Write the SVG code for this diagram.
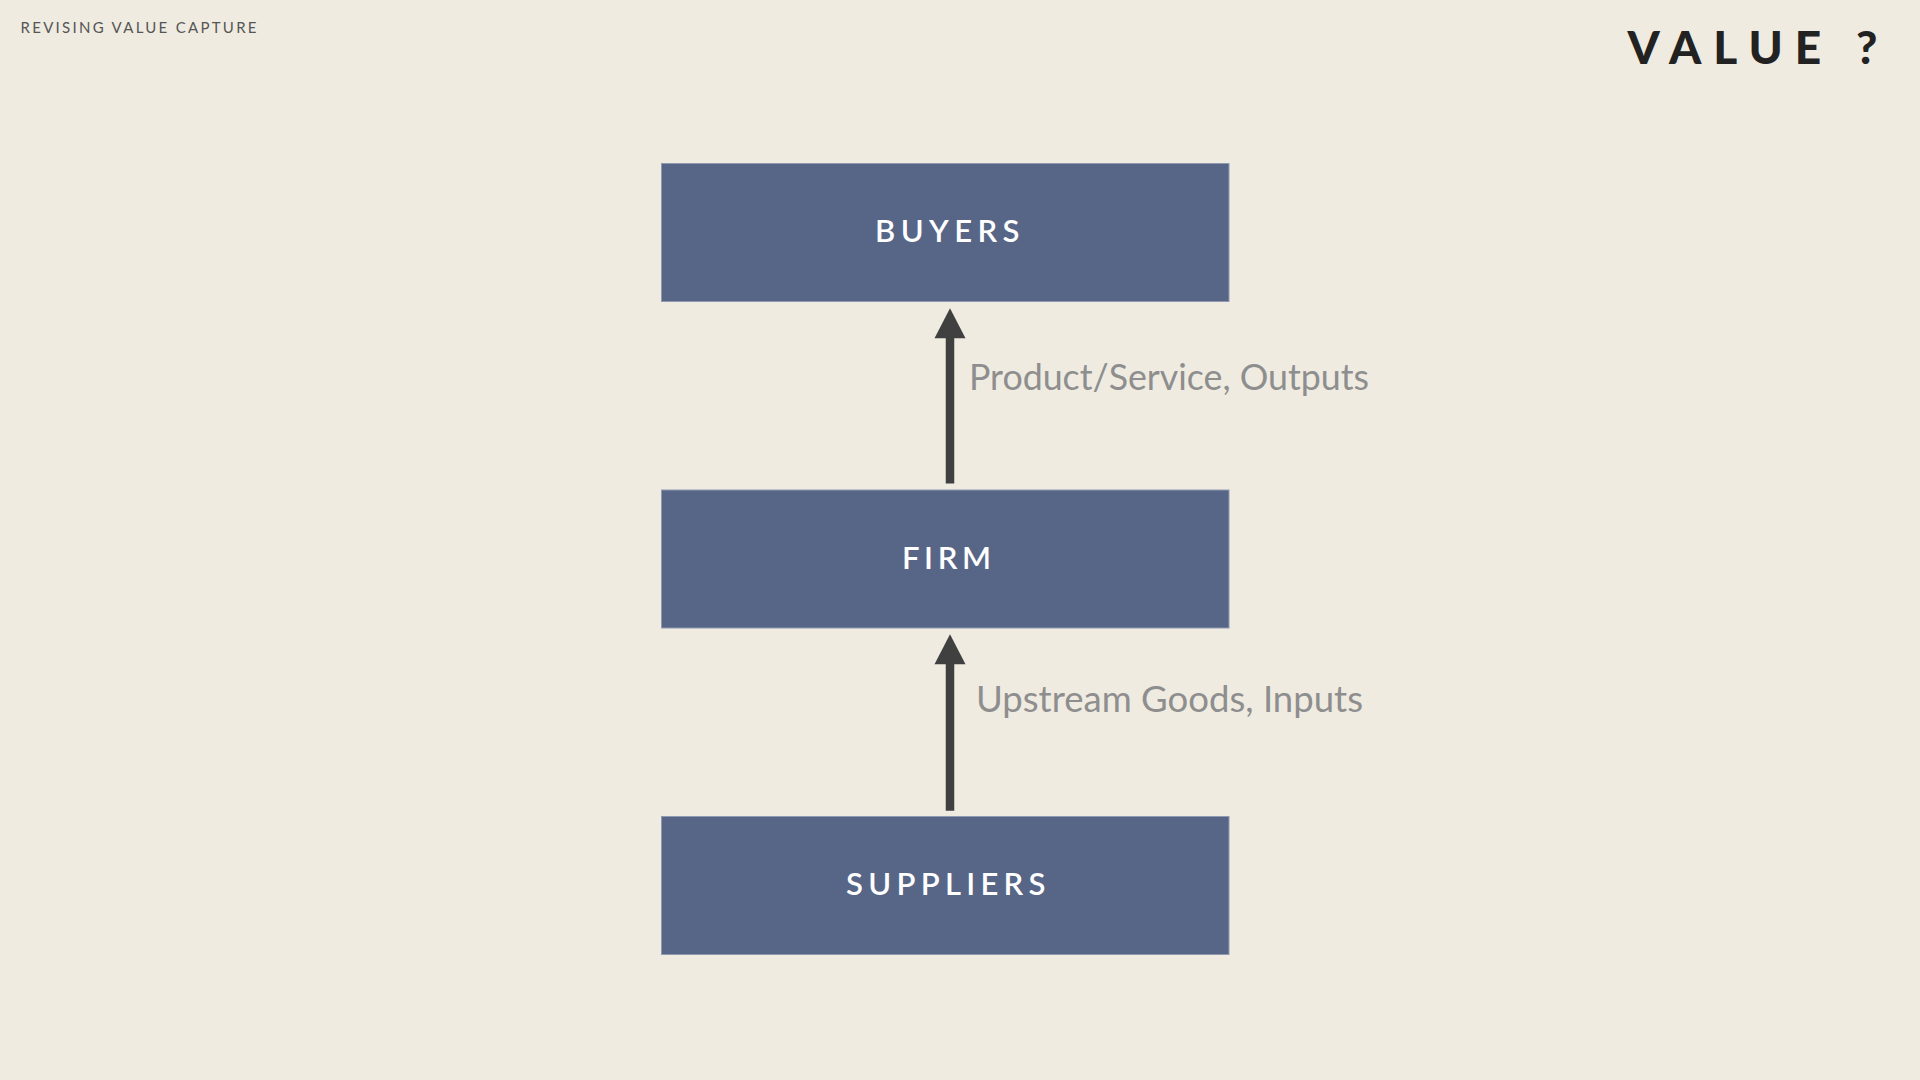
<svg xmlns="http://www.w3.org/2000/svg" width="1920" height="1080" viewBox="0 0 1920 1080">
  <defs>
    <style>
      .bg { fill: #EFEBE1; }
      .box { fill: #576687; stroke: #8F9AB0; stroke-width: 1; }
      .boxlabel { font-family: Lato, "Noto Sans", "Liberation Sans", sans-serif; font-size: 31px; font-weight: 600; fill: #FFFFFF; }
      .edgelabel { font-family: Lato, "Noto Sans", "Liberation Sans", sans-serif; font-size: 36px; font-weight: 400; fill: #8E8E8E; }
      .shaft { stroke: #404040; stroke-width: 8.5; fill: none; }
      .head { fill: #404040; }
      .header { font-family: Lato, "Noto Sans", "Liberation Sans", sans-serif; font-size: 15px; fill: #555555; }
      .title { font-family: Lato, "Noto Sans", "Liberation Sans", sans-serif; font-size: 46px; font-weight: 900; fill: #222222; }
    </style>
  </defs>
  <rect class="bg" x="0" y="0" width="1920" height="1080"/>

  <text class="header" x="20.5" y="32.7" textLength="236" lengthAdjust="spacing">REVISING VALUE CAPTURE</text>
  <text class="title" x="1627.5" y="64" textLength="250" lengthAdjust="spacing">VALUE ?</text>

  <g id="connectors">
    <g id="edge-firm-buyers">
      <line class="shaft" x1="950" y1="483.5" x2="950" y2="336"/>
      <polygon class="head" points="950,308.3 965.5,338.3 934.5,338.3"/>
      <text class="edgelabel" x="969" y="390" textLength="400" lengthAdjust="spacingAndGlyphs">Product/Service, Outputs</text>
    </g>
    <g id="edge-suppliers-firm">
      <line class="shaft" x1="950" y1="810.7" x2="950" y2="662"/>
      <polygon class="head" points="950,634.3 965.5,664.3 934.5,664.3"/>
      <text class="edgelabel" x="976" y="711.7" textLength="387" lengthAdjust="spacingAndGlyphs">Upstream Goods, Inputs</text>
    </g>
  </g>

  <g id="node-buyers">
    <rect class="box" x="661.5" y="163.5" width="567.5" height="138"/>
    <text class="boxlabel" x="875" y="242.3" textLength="144.5" lengthAdjust="spacing">BUYERS</text>
  </g>
  <g id="node-firm">
    <rect class="box" x="661.5" y="490" width="567.5" height="138"/>
    <text class="boxlabel" x="902" y="569" textLength="89" lengthAdjust="spacing">FIRM</text>
  </g>
  <g id="node-suppliers">
    <rect class="box" x="661.5" y="816.5" width="567.5" height="138"/>
    <text class="boxlabel" x="846" y="895" textLength="199.5" lengthAdjust="spacing">SUPPLIERS</text>
  </g>
</svg>
